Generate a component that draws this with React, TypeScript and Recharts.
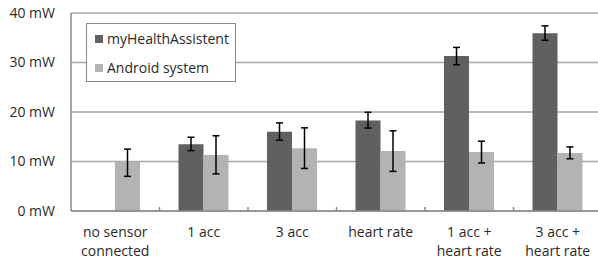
import React from "react";
import { BarChart, Bar, XAxis, YAxis, CartesianGrid, ErrorBar } from "recharts";

const categories = ["no sensor connected", "1 acc", "3 acc", "heart rate", "1 acc + heart rate", "3 acc + heart rate"];
const tickLabelLines = [["no sensor", "connected"], ["1 acc"], ["3 acc"], ["heart rate"], ["1 acc +", "heart rate"], ["3 acc +", "heart rate"]];
const seriesNames = ["myHealthAssistent", "Android system"];
const myHealthValues = [null, 13.5, 16.0, 18.3, 31.3, 35.9];
const myHealthErrLow = [null, 1.3, 1.7, 1.55, 1.75, 1.4];
const myHealthErrHigh = [null, 1.4, 1.8, 1.65, 1.75, 1.5];
const androidValues = [10.0, 11.3, 12.7, 12.1, 11.9, 11.7];
const androidErrLow = [3.0, 3.8, 4.1, 4.1, 2.2, 1.15];
const androidErrHigh = [2.5, 3.9, 4.1, 4.1, 2.2, 1.25];
const yTicks = [0, 10, 20, 30, 40];

const data = categories.map((c, i) => ({
  name: c,
  mha: myHealthValues[i],
  mhaErr: myHealthValues[i] == null ? null : [myHealthErrLow[i], myHealthErrHigh[i]],
  android: androidValues[i],
  androidErr: [androidErrLow[i], androidErrHigh[i]],
}));

const FONT = "'Open Sans', sans-serif";
const FS = 14;
const TEXT = "#2a2a2a";
const DARK = "#606060";
const LIGHT = "#b3b3b3";
const SERIES_COLORS = [DARK, LIGHT];
const CHART_W = 602;
const YAXIS_W = 71;
const BAND = (CHART_W - YAXIS_W) / categories.length;

const XTick = (props: any) => {
  const { x, y, index } = props;
  const lines = tickLabelLines[index] || [];
  return (
    <g>
      {index > 0 && (
        <line x1={x - BAND / 2} x2={x - BAND / 2} y1={y - 4} y2={y} stroke="#8a8a8a" strokeWidth={1.5} />
      )}
      {lines.map((l, k) => (
        <text key={k} x={x} y={y + 26 + k * 19} textAnchor="middle" fontFamily={FONT} fontSize={FS} fill={TEXT}>
          {l}
        </text>
      ))}
    </g>
  );
};

const LegendBox = () => (
  <div
    style={{
      position: "absolute",
      left: 86,
      top: 23,
      width: 150,
      height: 59,
      boxSizing: "border-box",
      border: "1px solid #8a8a8a",
      background: "#fff",
      fontFamily: FONT,
      fontSize: FS,
      color: TEXT,
      paddingLeft: 8,
      paddingTop: 6,
    }}
  >
    {seriesNames.map((label, i) => (
      <div key={i} style={{ display: "flex", alignItems: "center", height: 18, marginBottom: i === 0 ? 11 : 0 }}>
        <span style={{ display: "inline-block", width: 8, height: 8, background: SERIES_COLORS[i], marginRight: 4 }} />
        <span style={{ lineHeight: "18px", whiteSpace: "nowrap" }}>{label}</span>
      </div>
    ))}
  </div>
);

export default function App() {
  return (
    <div style={{ position: "absolute", left: 0, top: 0, width: 598, height: 264, overflow: "hidden", background: "#fff" }}>
      <BarChart
        width={CHART_W}
        height={264}
        data={data}
        margin={{ top: 13, right: 0, bottom: 0, left: 0 }}
        barSize={25}
        barGap={0}
      >
        <CartesianGrid vertical={false} stroke="#a6a6a6" strokeWidth={1.5} />
        <XAxis
          dataKey="name"
          height={53}
          tick={<XTick />}
          tickLine={false}
          tickSize={0}
          tickMargin={0}
          axisLine={{ stroke: "#8a8a8a", strokeWidth: 1.5 }}
          interval={0}
        />
        <YAxis
          width={YAXIS_W}
          domain={[0, 40]}
          ticks={yTicks}
          tickFormatter={(v: number) => `${v} mW`}
          tickLine={false}
          tickSize={0}
          tickMargin={16}
          axisLine={{ stroke: "#8a8a8a", strokeWidth: 1.5 }}
          tick={{ fontFamily: FONT, fontSize: FS, fill: TEXT }}
        />
        <Bar dataKey="mha" name={seriesNames[0]} fill={DARK} isAnimationActive={false}>
          <ErrorBar dataKey="mhaErr" width={3.5} stroke="#000" strokeWidth={1.5} />
        </Bar>
        <Bar dataKey="android" name={seriesNames[1]} fill={LIGHT} isAnimationActive={false}>
          <ErrorBar dataKey="androidErr" width={3.5} stroke="#000" strokeWidth={1.5} />
        </Bar>
      </BarChart>
      <LegendBox />
    </div>
  );
}
